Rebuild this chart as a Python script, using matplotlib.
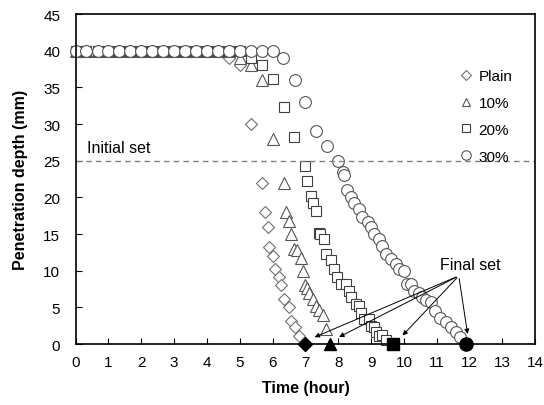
import matplotlib
matplotlib.use('Agg')
import matplotlib.pyplot as plt

plt.rcParams['font.family'] = ['Liberation Sans', 'DejaVu Sans']

# flat part of the curves (penetration stays at 40 mm)
row_t = [0, 0.33, 0.67, 1, 1.33, 1.67, 2, 2.33, 2.67, 3, 3.33, 3.67, 4, 4.33,
         4.67, 5.0, 5.33, 5.67, 6.0]

plain_t = row_t[:14] + [4.67, 5.0, 5.33, 5.67, 5.77, 5.85, 5.9, 6.02, 6.08, 6.18,
                        6.25, 6.36, 6.49, 6.56, 6.69, 6.81]
plain_d = [40] * 14 + [39, 38, 30, 22, 18, 16, 13.2, 12, 10.2, 9.2,
                       8, 6.2, 5.1, 3.2, 2.3, 1.1]

p10_t = row_t[:15] + [5.0, 5.33, 5.67, 6.0, 6.36, 6.41, 6.51, 6.56, 6.66, 6.75,
                      6.86, 6.93, 6.99, 7.05, 7.12, 7.22, 7.32, 7.42, 7.52, 7.62]
p10_d = [40] * 15 + [39, 38, 36, 28, 22, 18, 16.8, 15, 13, 12.8,
                     11.8, 10, 8, 7.6, 7.0, 6.2, 5.2, 4.6, 3.9, 2.0]

p20_t = row_t[:16] + [5.33, 5.67, 6.0, 6.36, 6.66, 6.99, 7.06, 7.17, 7.24, 7.32,
                      7.40, 7.45, 7.57, 7.62, 7.77, 7.87, 7.97, 8.08, 8.25, 8.33,
                      8.38, 8.53, 8.63, 8.68, 8.78, 8.94, 8.99, 9.09, 9.14, 9.24,
                      9.34, 9.45]
p20_d = [40] * 16 + [39, 38, 36.2, 32.3, 28.2, 24.3, 22.3, 20.2, 19.3, 18.2,
                     15.2, 15, 14.3, 12.3, 11.5, 10.3, 9.2, 8.2, 8.2, 7.3,
                     6.4, 5.5, 5.2, 4.2, 3.4, 3.4, 2.5, 2.3, 1.6, 1.1,
                     1.3, 0.6]

p30_t = row_t + [6.33, 6.67, 7.0, 7.33, 7.67, 8.0, 8.13, 8.17, 8.28, 8.38,
                 8.48, 8.63, 8.73, 8.89, 8.99, 9.09, 9.24, 9.34, 9.44, 9.6,
                 9.75, 9.85, 10.0, 10.1, 10.2, 10.3, 10.46, 10.56, 10.66, 10.81,
                 10.96, 11.11, 11.27, 11.42, 11.57, 11.72]
p30_d = [40] * 19 + [39, 36, 33, 29, 27, 25, 23.4, 23, 21, 20,
                     19.3, 18.4, 17.3, 16.6, 15.9, 15, 14.3, 13.4, 12.3, 11.6,
                     10.9, 10.2, 10, 8.2, 8.2, 7.3, 7.0, 6.4, 6.0, 5.7,
                     4.5, 3.6, 3.0, 2.3, 1.6, 0.9]

labels = ['Plain', '10%', '20%', '30%']
final_t = [7.0, 7.75, 9.67, 11.88]
arrow_heads = [(7.2, 0.8), (7.95, 0.8), (9.9, 0.9), (11.95, 1.0)]
arrow_tail = (11.67, 9.3)
initial_set = 25

fs = 11.5
fig = plt.figure(figsize=(5.44, 4.06), dpi=100)
ax = fig.add_axes([0.139, 0.150, 0.845, 0.813])

ec = '#555555'
ax.plot(plain_t, plain_d, 'D', ms=6, mfc='white', mec='#707070', mew=0.8, ls='none',
        clip_on=False, label=labels[0])
ax.plot(p10_t, p10_d, '^', ms=8, mfc='white', mec=ec, mew=0.8, ls='none',
        clip_on=False, label=labels[1])
ax.plot(p20_t, p20_d, 's', ms=7.5, mfc='white', mec='#404040', mew=0.8, ls='none',
        clip_on=False, label=labels[2])
ax.plot(p30_t, p30_d, 'o', ms=8.5, mfc='white', mec=ec, mew=0.8, ls='none',
        clip_on=False, label=labels[3])

# final set points
for t, m, s in zip(final_t, ['D', '^', 's', 'o'], [7, 9, 8, 9.5]):
    ax.plot([t], [0], m, ms=s, color='black', clip_on=False, zorder=5)

ax.axhline(initial_set, color='#808080', lw=1, ls=(0, (4, 3)))
ax.text(0.35, 26.2, 'Initial set', fontsize=fs)

for h in arrow_heads:
    ax.annotate('', xy=h, xytext=arrow_tail,
                arrowprops=dict(arrowstyle='-|>', color='black', lw=0.7, mutation_scale=7))
ax.text(12.03, 10.8, 'Final set', fontsize=fs, ha='center', va='center')

ax.set_xlim(0, 14)
ax.set_ylim(0, 45)
ax.set_xticks(range(0, 15))
ax.set_yticks(range(0, 46, 5))
ax.tick_params(direction='in', length=4, labelsize=11)
ax.tick_params(axis='x', pad=8)
ax.tick_params(axis='y', pad=11)
for sp in ax.spines.values():
    sp.set_linewidth(1.2)

ax.set_xlabel('Time (hour)', fontsize=fs, fontweight='bold', labelpad=8)
ax.set_ylabel('Penetration depth (mm)', fontsize=fs, fontweight='bold', labelpad=11)

ax.legend(loc='upper left', bbox_to_anchor=(0.82, 0.857), frameon=False, fontsize=11,
          markerscale=0.8, handlelength=0.8, handletextpad=0.4, labelspacing=0.85,
          borderpad=0)

plt.savefig('out.png', dpi=100)
plt.close()
